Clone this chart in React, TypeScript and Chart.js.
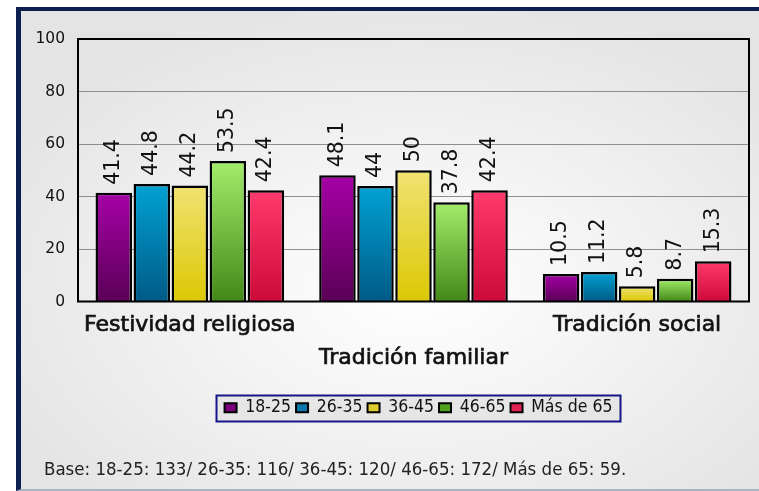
import React, { useEffect, useRef } from "react";
import { Chart, registerables } from "chart.js";
Chart.register(...registerables);

const categories = ["Festividad religiosa", "Tradición familiar", "Tradición social"];
const seriesNames = ["18-25", "26-35", "36-45", "46-65", "Más de 65"];
const s1825 = [41.4, 48.1, 10.5];
const s2635 = [44.8, 44, 11.2];
const s3645 = [44.2, 50, 5.8];
const s4665 = [53.5, 37.8, 8.7];
const sMas65 = [42.4, 42.4, 15.3];
const seriesValues = [s1825, s2635, s3645, s4665, sMas65];
const yMin = 0;
const yMax = 100;
const yStep = 20;
const footnote = "Base: 18-25: 133/ 26-35: 116/ 36-45: 120/ 46-65: 172/ Más de 65: 59.";

const topColors = ["#a600a6", "#00a2d4", "#f0e272", "#a2ee6a", "#ff3a6c"];
const bottomColors = ["#5a0056", "#005a86", "#dcc804", "#428818", "#cc0a3a"];
const swatchColors = ["#7c007c", "#0a78a8", "#dccc30", "#4ea21c", "#e22452"];

const NAVY = "#0c1f4f";

function makeBg(i: number) {
  return (ctx: any) => {
    const chart = ctx.chart;
    const area = chart.chartArea;
    const ys = chart.scales && chart.scales.y;
    if (!area || !ys || ctx.type !== "data") return swatchColors[i];
    const top = ys.getPixelForValue(ctx.raw as number);
    const bottom = ys.getPixelForValue(0);
    if (!isFinite(top) || !isFinite(bottom) || bottom - top < 1) return swatchColors[i];
    const g = chart.ctx.createLinearGradient(0, top, 0, bottom);
    g.addColorStop(0, topColors[i]);
    g.addColorStop(1, bottomColors[i]);
    return g;
  };
}

const legendShift = {
  id: "legendShift",
  afterLayout(chart: any) {
    const lg = chart.legend;
    if (lg) {
      lg.left += 30;
      lg.right += 30;
    }
  },
};

const legendFrame = {
  id: "legendFrame",
  beforeDraw(chart: any) {
    const lg = chart.legend;
    if (!lg || !lg.legendHitBoxes || !lg.legendHitBoxes.length) return;
    const boxes = lg.legendHitBoxes;
    let minL = Infinity, maxR = -Infinity, top = Infinity, bot = -Infinity;
    for (const b of boxes) {
      minL = Math.min(minL, b.left);
      maxR = Math.max(maxR, b.left + b.width);
      top = Math.min(top, b.top);
      bot = Math.max(bot, b.top + b.height);
    }
    const c = chart.ctx;
    c.save();
    const x0 = Math.round(minL - 9) + 0.5;
    const y0 = Math.round(top - 4) + 0.5;
    const w = Math.round(maxR - minL + 16);
    const h = Math.round(bot - top + 8);
    c.fillStyle = "#e6e6e6";
    c.fillRect(x0, y0, w, h);
    c.strokeStyle = "#15158a";
    c.lineWidth = 2;
    c.strokeRect(x0, y0, w, h);
    c.restore();
  },
};

const plotFrame = {
  id: "plotFrame",
  afterDatasetsDraw(chart: any) {
    const a = chart.chartArea;
    const c = chart.ctx;
    c.save();
    c.strokeStyle = "#000";
    c.lineWidth = 2;
    c.strokeRect(a.left, a.top, a.right - a.left, a.bottom - a.top);
    c.restore();
  },
};

const valueLabels = {
  id: "valueLabels",
  afterDatasetsDraw(chart: any) {
    const c = chart.ctx;
    c.save();
    c.font = "20.5px 'DejaVu Sans'";
    c.fillStyle = "#111";
    c.textAlign = "left";
    c.textBaseline = "middle";
    chart.data.datasets.forEach((ds: any, di: number) => {
      const meta = chart.getDatasetMeta(di);
      meta.data.forEach((el: any, i: number) => {
        const v = ds.data[i];
        c.save();
        c.translate(el.x, el.y - 8);
        c.rotate(-Math.PI / 2);
        c.fillText(String(v), 0, 0);
        c.restore();
      });
    });
    c.restore();
  },
};

const footnotePlugin = {
  id: "footnote",
  afterDraw(chart: any) {
    const c = chart.ctx;
    c.save();
    c.font = "18.5px 'DejaVu Sans Condensed', 'DejaVu Sans'";
    c.fillStyle = "#222";
    c.textAlign = "left";
    c.textBaseline = "middle";
    c.fillText(footnote, 44, 470);
    c.restore();
  },
};

export default function App() {
  const ref = useRef<HTMLCanvasElement | null>(null);

  useEffect(() => {
    if (!ref.current) return;
    const chart = new Chart(ref.current, {
      type: "bar",
      data: {
        labels: categories,
        datasets: seriesNames.map((name, i) => ({
          label: name,
          data: seriesValues[i],
          backgroundColor: makeBg(i),
          borderColor: "#000",
          borderWidth: 2.5,
          categoryPercentage: 0.85,
          barPercentage: 0.96,
        })),
      },
      options: {
        responsive: false,
        animation: false,
        devicePixelRatio: 1,
        layout: { padding: { left: 28, right: 10, top: 39, bottom: 64.5 } },
        plugins: {
          tooltip: { enabled: false },
          title: { display: false },
          legend: {
            display: true,
            position: "bottom",
            labels: {
              font: { family: "'DejaVu Sans Condensed', 'DejaVu Sans'", size: 17.5 },
              color: "#111",
              boxWidth: 12,
              boxHeight: 9,
              padding: 5,
              generateLabels: (ch: any) =>
                ch.data.datasets.map((ds: any, i: number) => ({
                  text: ds.label,
                  fillStyle: swatchColors[i],
                  strokeStyle: "#000",
                  lineWidth: 2,
                  hidden: false,
                  datasetIndex: i,
                  fontColor: "#111",
                })),
            },
          },
        },
        scales: {
          x: {
            grid: { display: false, drawTicks: false },
            border: { display: false },
            ticks: {
              autoSkip: false,
              maxRotation: 0,
              minRotation: 0,
              padding: 7.5,
              color: "#111",
              textStrokeColor: "#111",
              textStrokeWidth: 0.7,
              font: { family: "'DejaVu Sans'", size: 22, lineHeight: 1.5 },
              callback: (_v: any, i: number) => (i === 1 ? ["", categories[i]] : categories[i]),
            },
            afterFit: (s: any) => {
              s.height = 92.5;
            },
          },
          y: {
            min: yMin,
            max: yMax,
            ticks: {
              stepSize: yStep,
              padding: 13,
              color: "#111",
              font: { family: "'DejaVu Sans'", size: 15.5 },
            },
            grid: {
              drawTicks: false,
              lineWidth: 1,
              color: (c: any) =>
                c.tick && (c.tick.value === yMin || c.tick.value === yMax) ? "rgba(0,0,0,0)" : "#8e8e8e",
            },
            border: { display: false },
            afterFit: (s: any) => {
              s.width = 50;
            },
          },
        },
      },
      plugins: [legendShift, legendFrame, plotFrame, valueLabels, footnotePlugin],
    } as any);
    return () => chart.destroy();
  }, []);

  return (
    <div style={{ position: "absolute", left: 0, top: 0, width: 759, height: 491, overflow: "hidden", background: "#fff" }}>
      <div
        style={{
          position: "absolute",
          left: 16,
          top: 7,
          width: 760,
          height: 484,
          boxSizing: "border-box",
          borderTop: `4px solid ${NAVY}`,
          borderLeft: `5px solid ${NAVY}`,
          borderBottom: "2px solid #a8b4c4",
          background:
            "radial-gradient(ellipse 62% 62% at 52% 58%, #ffffff 0%, #f6f6f6 35%, #e4e4e4 100%)",
        }}
      />
      <canvas ref={ref} width={759} height={491} style={{ position: "absolute", left: 0, top: 0 }} />
    </div>
  );
}
